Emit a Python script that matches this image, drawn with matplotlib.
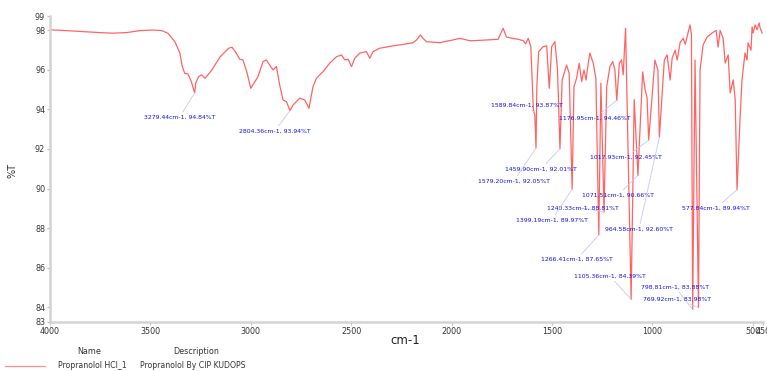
import matplotlib
matplotlib.use("Agg")
import matplotlib.pyplot as plt

# spectrum (cm-1, %T)
wavenumber = [4000, 3919, 3837, 3752, 3686, 3618, 3553, 3486, 3443, 3413, 3378, 3353, 3341, 3329,
              3313, 3296, 3279.44, 3274, 3260, 3245, 3227, 3194, 3152, 3110, 3094, 3077, 3055, 3039,
              3020, 3000, 2964, 2939, 2922, 2906, 2889, 2872, 2856, 2839, 2822, 2804.36, 2789, 2756,
              2731, 2710, 2690, 2673, 2640, 2607, 2573, 2548, 2532, 2515, 2498, 2482, 2457, 2424,
              2407, 2391, 2357, 2291, 2224, 2191, 2174, 2155, 2142, 2125, 2058, 1992, 1959, 1909,
              1892, 1826, 1768, 1743, 1726, 1668, 1643, 1631, 1618, 1605, 1593, 1589.84, 1585,
              1579.20, 1575, 1566, 1543, 1526, 1513, 1501, 1485, 1472, 1459.90, 1449, 1427, 1414,
              1399.19, 1390, 1377, 1364, 1352, 1340, 1330, 1319, 1311, 1294, 1281, 1266.41, 1256,
              1240.33, 1227, 1211, 1197, 1186, 1176.95, 1164, 1153, 1145, 1133, 1105.36, 1090,
              1071.51, 1048, 1036, 1026, 1017.93, 987, 972, 964.58, 940, 926, 911, 901, 886, 876,
              861, 846, 836, 821, 812, 805, 798.81, 787, 769.92, 762, 747, 727, 702, 682, 672, 662,
              647, 637, 622, 612, 597, 587, 577.84, 563, 553, 538, 528, 523, 508, 503, 498, 488,
              478, 468, 463, 453]
transmittance = [98.03, 97.99, 97.94, 97.89, 97.86, 97.89, 97.99, 98.02, 97.99, 97.86, 97.43, 96.85,
                 96.17, 95.83, 95.80, 95.41, 94.84, 95.33, 95.66, 95.75, 95.58, 96.00, 96.67, 97.10,
                 97.15, 96.93, 96.54, 96.51, 95.91, 95.07, 95.66, 96.42, 96.51, 96.25, 96.00, 96.17,
                 95.24, 94.48, 94.39, 93.94, 94.23, 94.57, 94.48, 94.06, 95.15, 95.58, 95.91, 96.34,
                 96.67, 96.76, 96.51, 96.54, 96.17, 96.59, 96.85, 96.93, 96.59, 96.93, 97.10, 97.22,
                 97.32, 97.38, 97.52, 97.77, 97.60, 97.43, 97.38, 97.52, 97.60, 97.48, 97.48, 97.52,
                 97.55, 98.11, 97.66, 97.55, 97.48, 97.32, 97.60, 97.18, 94.14, 93.87, 93.70, 92.05,
                 95.15, 96.93, 97.18, 97.22, 95.07, 97.18, 97.43, 96.00, 92.01, 95.49, 96.25, 95.83,
                 89.97, 95.15, 95.58, 96.34, 95.41, 96.00, 95.49, 96.34, 96.85, 96.34, 95.58, 87.65,
                 95.33, 88.81, 95.15, 96.17, 96.42, 96.00, 94.46, 96.34, 96.51, 95.75, 98.11, 84.39,
                 94.50, 90.66, 95.90, 95.00, 94.60, 92.45, 96.50, 96.00, 92.60, 96.50, 96.76, 95.49,
                 96.60, 97.00, 96.50, 97.40, 97.60, 97.30, 97.90, 98.28, 97.80, 83.88, 96.50, 83.98,
                 96.00, 97.26, 97.67, 97.87, 98.00, 97.16, 98.00, 97.60, 96.35, 96.76, 94.84, 95.50,
                 94.50, 89.94, 93.50, 95.50, 96.86, 96.50, 97.37, 97.00, 98.18, 97.87, 98.28, 98.03,
                 98.38, 98.13, 97.87]

# labelled peaks
peak_wn = [3279.44, 2804.36, 1589.84, 1176.95, 1459.90, 1579.20, 1017.93, 1071.51,
           1240.33, 1399.19, 964.58, 1266.41, 1105.36, 798.81, 769.92, 577.84]
peak_t = [94.84, 93.94, 93.87, 94.46, 92.01, 92.05, 92.45, 90.66,
          88.81, 89.97, 92.60, 87.65, 84.39, 83.88, 83.98, 89.94]

x_ticks = [4000, 3500, 3000, 2500, 2000, 1500, 1000, 500, 450]
y_ticks = [84, 86, 88, 90, 92, 94, 96, 98]

legend_name = "Propranolol HCl_1"
legend_desc = "Propranolol By CIP KUDOPS"

# where the peak labels sit (data coords), same order as peaks
label_xy = [(3354, 93.62), (2881, 92.91), (1624, 94.23), (1286, 93.57), (1555, 90.99),
            (1690, 90.38), (1131, 91.59), (1171, 89.67), (1345, 89.01), (1500, 88.41),
            (1066, 87.95), (1375, 86.43), (1211, 85.57), (887, 85.01), (877, 84.41),
            (682, 89.01)]

Y_LO, Y_HI = 83.26, 98.73
X_HI, X_LO = 4000, 450

fig = plt.figure(figsize=(7.67, 3.71), dpi=100)
ax = fig.add_axes([50 / 767, 1 - 321.7 / 371, (762.7 - 50) / 767, (321.7 - 16) / 371])

ax.plot(wavenumber, transmittance, color="#ff6464", lw=0.9)

for wn, t, (tx, ty) in zip(peak_wn, peak_t, label_xy):
    ax.annotate(f"{wn:.2f}cm-1, {t:.2f}%T", xy=(wn, t), xytext=(tx, ty),
                fontsize=4.4, color="#1010ee", ha="center", va="center",
                arrowprops=dict(arrowstyle="-", color="#c8c8f2", lw=0.6, shrinkA=0, shrinkB=0))

ax.set_xlim(X_HI, X_LO)
ax.set_ylim(Y_LO, Y_HI)
ax.set_xticks(x_ticks)
ax.set_xticklabels([str(v) for v in x_ticks])
ax.set_yticks([Y_LO] + y_ticks + [Y_HI])
ax.set_yticklabels(["83"] + [str(v) for v in y_ticks] + ["99"])
ax.tick_params(axis="both", labelsize=5.8, colors="#bbbbbb", labelcolor="#333333", length=2, width=0.8, pad=1.5)

for side in ["top", "right"]:
    ax.spines[side].set_visible(False)
for side in ["left", "bottom"]:
    ax.spines[side].set_color("#d4d4d4")
    ax.spines[side].set_linewidth(1.8)

fig.text(13 / 767, 1 - 170 / 371, "%T", rotation=90, fontsize=7, color="#333333", ha="center", va="center")
fig.text(405 / 767, 1 - 341 / 371, "cm-1", fontsize=8.5, color="#222222", ha="center", va="center")

# legend table under the plot
fig.text(89 / 767, 1 - 351 / 371, "Name", fontsize=5.8, color="#333333", ha="center", va="center")
fig.text(196 / 767, 1 - 351 / 371, "Description", fontsize=5.8, color="#333333", ha="center", va="center")
fig.add_artist(plt.Line2D([5 / 767, 45 / 767], [1 - 366 / 371, 1 - 366 / 371], color="#ff9090", lw=0.9))
fig.text(58 / 767, 1 - 366 / 371, legend_name, fontsize=5.6, color="#333333", ha="left", va="center")
fig.text(140 / 767, 1 - 366 / 371, legend_desc, fontsize=5.6, color="#333333", ha="left", va="center")

fig.savefig("out.png", dpi=100)
